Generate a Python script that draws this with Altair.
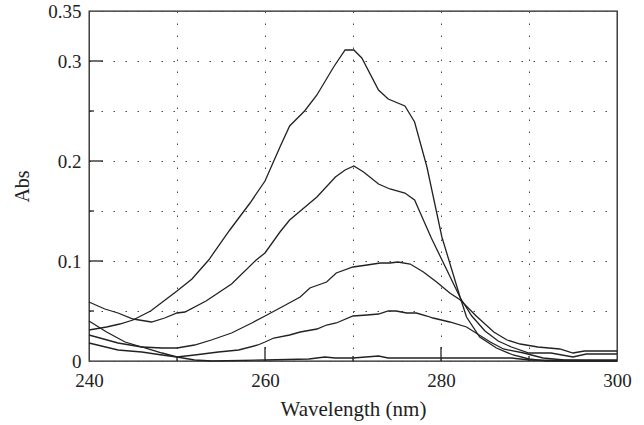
import altair as alt
import pandas as pd

# ---- data ----
a_x = [240, 242, 243.5, 245, 247, 248.5, 250, 251.7, 253.6, 256, 258.3, 260, 261.7, 262.8, 264.5, 265.9, 267.8, 269.1, 270.1, 271, 272.9, 274, 275.9, 277, 278.4, 280.1, 282.2, 282.9, 284.4, 286.3, 288.2, 290, 292, 296, 300]
a_y = [0.031, 0.034, 0.037, 0.041, 0.050, 0.060, 0.070, 0.082, 0.101, 0.131, 0.158, 0.180, 0.214, 0.235, 0.250, 0.266, 0.294, 0.311, 0.311, 0.303, 0.271, 0.262, 0.255, 0.239, 0.194, 0.124, 0.063, 0.044, 0.024, 0.013, 0.006, 0.002, 0.000, 0.000, 0.000]

b_x = [240, 241.8, 243.3, 245, 247.1, 248.6, 250, 250.9, 253.3, 256.2, 259, 260, 261.7, 262.8, 265.9, 268, 269.1, 270.1, 271.2, 272.9, 274.2, 275.9, 277, 278, 278.9, 280.5, 282.2, 283.5, 285, 286.5, 288, 290, 292.5, 295, 296.5, 300]
b_y = [0.059, 0.052, 0.048, 0.042, 0.039, 0.043, 0.048, 0.049, 0.060, 0.077, 0.101, 0.108, 0.129, 0.141, 0.164, 0.184, 0.191, 0.195, 0.189, 0.177, 0.172, 0.168, 0.161, 0.141, 0.123, 0.094, 0.063, 0.045, 0.030, 0.020, 0.014, 0.008, 0.008, 0.004, 0.007, 0.007]

c_x = [240, 242, 244.1, 246, 248.3, 250, 252, 253.9, 256.2, 258.5, 260, 261.7, 264, 265.1, 267, 268.1, 270, 271.6, 273.1, 274.2, 275.1, 276.5, 278, 279.5, 281, 282.2, 284, 286, 287.5, 289, 291, 293.5, 295, 296.3, 298, 300]
c_y = [0.040, 0.029, 0.019, 0.014, 0.013, 0.013, 0.016, 0.021, 0.028, 0.038, 0.045, 0.053, 0.064, 0.073, 0.079, 0.088, 0.094, 0.096, 0.098, 0.098, 0.099, 0.097, 0.089, 0.079, 0.068, 0.061, 0.045, 0.029, 0.021, 0.017, 0.014, 0.012, 0.008, 0.010, 0.010, 0.010]

d_x = [240, 243.3, 246, 248.3, 250, 252, 254.7, 257, 259.2, 260, 261, 262.8, 264, 265.9, 267, 268.1, 270, 271.6, 272.9, 274, 274.9, 276.1, 277.2, 278.4, 279.1, 281, 282.9, 285.6, 287.1, 289.4, 291.6, 294, 300]
d_y = [0.018, 0.011, 0.009, 0.006, 0.004, 0.006, 0.009, 0.011, 0.016, 0.019, 0.023, 0.026, 0.029, 0.032, 0.036, 0.038, 0.045, 0.046, 0.047, 0.050, 0.050, 0.048, 0.048, 0.045, 0.043, 0.039, 0.034, 0.019, 0.012, 0.008, 0.003, 0.001, 0.001]

e_x = [240, 243.3, 246, 248.3, 250, 252, 254, 260, 265, 266.8, 268, 270, 272.9, 274, 280, 285, 288, 290, 300]
e_y = [0.026, 0.018, 0.014, 0.008, 0.004, 0.001, 0.000, 0.001, 0.002, 0.004, 0.003, 0.003, 0.005, 0.003, 0.003, 0.003, 0.003, 0.001, 0.000]

x_grid_values = [240, 250, 260, 270, 280, 290, 300]
y_grid_values = [0, 0.05, 0.1, 0.15, 0.2, 0.25, 0.3, 0.35]
x_major_ticks = [260, 280]
x_minor_ticks = [250, 270, 290]
y_major_ticks = [0.1, 0.2, 0.3]
y_minor_ticks = [0.05, 0.15, 0.25]

rows = []
for name, xs, ys in [("A", a_x, a_y), ("B", b_x, b_y), ("C", c_x, c_y), ("D", d_x, d_y), ("E", e_x, e_y)]:
    for x, y in zip(xs, ys):
        rows.append({"series": name, "wl": x, "abs": y})
df = pd.DataFrame(rows)

FONT = "Liberation Serif, Times New Roman, DejaVu Serif, serif"
INK = "#222222"
W, H = 528, 350

xscale = alt.Scale(domain=[240, 300], nice=False, zero=False)
yscale = alt.Scale(domain=[0, 0.35], nice=False)

xaxis = alt.Axis(
    title="Wavelength (nm)", values=x_grid_values, grid=True, ticks=False, domain=False,
    labelExpr="(datum.value==250||datum.value==270||datum.value==290) ? '' : format(datum.value,'d')",
    labelFlush=False, labelOverlap=False,
    labelPadding=10, labelFontSize=19, labelFont=FONT, labelColor=INK,
    titleFont=FONT, titleFontSize=21, titleFontWeight="normal", titleColor=INK,
    titleX=W / 2, titleY=54, titleBaseline="alphabetic",
    gridColor="#444444", gridDash=[1.5, 10.5], gridWidth=1)
yaxis = alt.Axis(
    title="Abs", values=y_grid_values, grid=True, ticks=False, domain=False,
    labelExpr="(datum.value==0.05||datum.value==0.15||datum.value==0.25) ? '' : format(datum.value,'~g')",
    labelFlush=False, labelOverlap=False,
    labelPadding=8, labelFontSize=19, labelFont=FONT, labelColor=INK,
    titleFont=FONT, titleFontSize=20, titleFontWeight="normal", titleColor=INK,
    titleX=-61, titleY=H / 2, titleBaseline="alphabetic", titleAngle=-90,
    gridColor="#444444", gridDash=[1.5, 10.5], gridWidth=1)

lines = alt.Chart(df).mark_line(strokeWidth=1.3, color=INK).encode(
    x=alt.X("wl:Q", scale=xscale, axis=xaxis),
    y=alt.Y("abs:Q", scale=yscale, axis=yaxis),
    detail="series:N",
)

def xticks(vals, length):
    return alt.Chart(pd.DataFrame({"wl": vals})).mark_rule(color=INK, strokeWidth=1.3).encode(
        x=alt.X("wl:Q", scale=xscale, axis=xaxis),
        y=alt.value(H), y2=alt.value(H - length))

def yticks(vals, length):
    return alt.Chart(pd.DataFrame({"abs": vals})).mark_rule(color=INK, strokeWidth=1.3).encode(
        y=alt.Y("abs:Q", scale=yscale, axis=yaxis),
        x=alt.value(0), x2=alt.value(length))

chart = alt.layer(
    lines,
    xticks(x_major_ticks, 14), xticks(x_minor_ticks, 5),
    yticks(y_major_ticks, 14), yticks(y_minor_ticks, 5),
).properties(
    width=W, height=H,
    background="white",
    autosize=alt.AutoSizeParams(type="none"),
    padding={"left": 89, "top": 11, "right": 27, "bottom": 64},
).configure_view(stroke=INK, strokeWidth=1.3)

chart.save("out.html", embed_options={"renderer": "svg", "actions": False})
